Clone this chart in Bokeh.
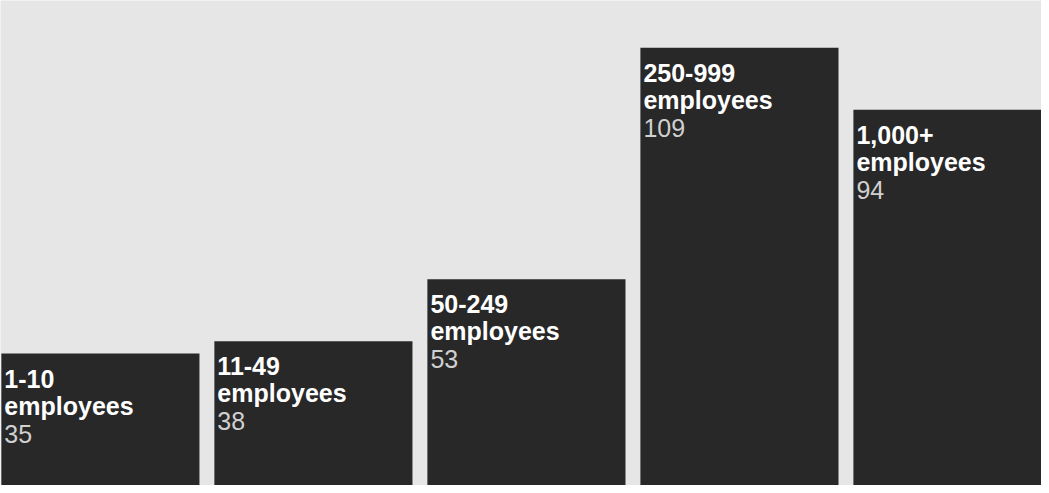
from bokeh.plotting import figure
from bokeh.models import Range1d, ColumnDataSource
from bokeh.core.properties import value
from bokeh.embed import file_html
from bokeh.resources import INLINE

categories = ["1-10", "11-49", "50-249", "250-999", "1,000+"]
unit_labels = ["employees"] * 5
values = [35, 38, 53, 109, 94]

BAR_W = 0.93
xs = list(range(len(categories)))
src = ColumnDataSource(dict(
    x=xs,
    left=[x - BAR_W / 2 for x in xs],
    top=values,
    cat=categories,
    unit=unit_labels,
    val=[str(v) for v in values],
))

p = figure(width=1041, height=485, output_backend="svg", toolbar_location=None,
           x_range=Range1d(-0.469, 4.418), y_range=Range1d(3.1, 120.4),
           min_border=0, background_fill_color="#e6e6e6",
           border_fill_color="#e6e6e6", outline_line_color=None)
p.axis.visible = False
p.grid.visible = False

p.vbar(x="x", width=BAR_W, top="top", bottom=0, source=src,
       fill_color="#282828", line_color=None)

font = value("Liberation Sans")
p.text(x="left", y="top", text="cat", source=src, x_offset=3, y_offset=25,
       text_font=font, text_font_size="25px", text_font_style="bold",
       text_color="#ffffff", text_baseline="alphabetic", text_align="left")
p.text(x="left", y="top", text="unit", source=src, x_offset=3, y_offset=52,
       text_font=font, text_font_size="25px", text_font_style="bold",
       text_color="#ffffff", text_baseline="alphabetic", text_align="left")
p.text(x="left", y="top", text="val", source=src, x_offset=3, y_offset=80,
       text_font=font, text_font_size="25px", text_font_style="normal",
       text_color="#d0d0d0", text_baseline="alphabetic", text_align="left")

html = file_html(p, INLINE)
html = html.replace("<body>", '<body style="background:#f2f2f2">', 1)
open("out.html", "w").write(html)
